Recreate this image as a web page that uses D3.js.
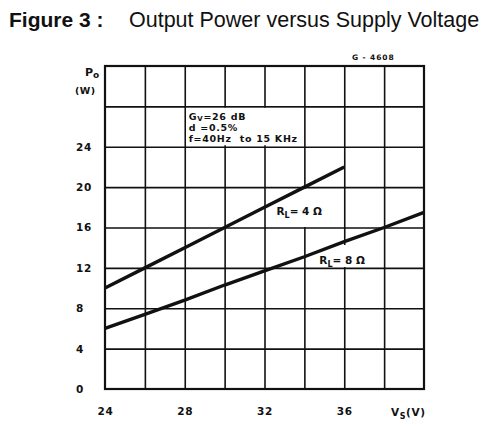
<!DOCTYPE html>
<html>
<head>
	<meta charset="utf-8">
	<script src="https://cdnjs.cloudflare.com/ajax/libs/d3/7.8.5/d3.min.js" charset="utf-8"></script>
	<style>
		body {
		  margin: 0;
		  background: #fff;
		}
		.title {
		  font-family: 'Liberation Sans', Arial, sans-serif;
		  font-size: 21.5px;
		  fill: #111;
		}
		.lbl {
		  font-family: 'DejaVu Sans', sans-serif;
		  font-weight: bold;
		  fill: #111;
		}
		.cond { white-space: pre; }
		.grid line { stroke: #111; stroke-width: 1.6px; }
		.grid path { display: none; }
		.ticks path, .ticks line { display: none; }
	</style>
</head>
<body>
<div id="chart"></div>
<script>

//////////////////// Data ////////////////////

// supply voltage Vs (V), one point per grid column
var voltage = [24, 26, 28, 30, 32, 34, 36, 38, 40];
// output power Po (W) for RL = 4 ohm (curve stops at 36 V)
var power4 = [10, 12, 14, 16, 18, 20, 22];
// output power Po (W) for RL = 8 ohm
var power8 = [6.0, 7.4, 8.8, 10.3, 11.7, 13.1, 14.6, 16.0, 17.5];

var xTickLabels = [24, 28, 32, 36];
var yTickLabels = [0, 4, 8, 12, 16, 20, 24];
var conditions = ["G|V|=26 dB", "d =0.5%", "f=40Hz  to 15 KHz"];

//////////////////// Setup ////////////////////

var margin = {top: 66, right: 76, bottom: 39, left: 105},
    width = 500 - margin.left - margin.right,
    height = 428 - margin.top - margin.bottom;

var svg = d3.select("#chart").append("svg")
    .attr("width", 500)
    .attr("height", 428);

//Title
var title = svg.append("text").attr("class", "title").attr("y", 27);
title.append("tspan").attr("x", 9).style("font-weight", "bold").style("font-size", "21px").text("Figure 3 :");
title.append("tspan").attr("x", 129).text("Output Power versus Supply Voltage");

//Drawing code
svg.append("text").attr("class", "lbl")
    .attr("x", 352).attr("y", 60)
    .style("font-size", "7.5px").style("letter-spacing", "0.9px")
    .text("G - 4608");

var g = svg.append("g")
    .attr("transform", "translate(" + margin.left + "," + margin.top + ")");

var x = d3.scaleLinear().domain([24, 40]).range([0, width]);
var y = d3.scaleLinear().domain([0, 32]).range([height, 0]);

//////////////////// Grid ////////////////////

g.append("g").attr("class", "grid")
    .call(d3.axisBottom(x).tickValues(d3.range(26, 40, 2)).tickSize(height).tickFormat(""));
g.append("g").attr("class", "grid")
    .call(d3.axisLeft(y).tickValues(d3.range(4, 32, 4)).tickSize(-width).tickFormat(""));

g.append("rect")
    .attr("width", width).attr("height", height)
    .style("fill", "none").style("stroke", "#111").style("stroke-width", 2.2);

//Tick labels
g.append("g").attr("class", "ticks lbl")
    .attr("transform", "translate(0," + height + ")")
    .call(d3.axisBottom(x).tickValues(xTickLabels).tickSize(0).tickFormat(d3.format("d")))
    .selectAll("text")
    .attr("y", 19)
    .style("font-family", "DejaVu Sans").style("font-weight", "bold")
    .style("font-size", "10.5px").style("letter-spacing", "0.8px").style("fill", "#111");

g.append("g").attr("class", "ticks lbl")
    .call(d3.axisLeft(y).tickValues(yTickLabels).tickSize(0).tickFormat(d3.format("d")))
    .selectAll("text")
    .attr("x", -29).style("text-anchor", "start")
    .style("font-family", "DejaVu Sans").style("font-weight", "bold")
    .style("font-size", "10.5px").style("letter-spacing", "0.8px").style("fill", "#111");

//Axis names
var yName = svg.append("text").attr("class", "lbl").style("font-size", "11px");
yName.append("tspan").attr("x", 85).attr("y", 76).text("P");
yName.append("tspan").attr("dy", 2).style("font-size", "9px").text("o");
svg.append("text").attr("class", "lbl").style("font-size", "9.5px").style("letter-spacing", "0.5px")
    .attr("x", 75).attr("y", 94).text("(W)");

var xName = svg.append("text").attr("class", "lbl").style("font-size", "10.5px").style("letter-spacing", "0.6px");
xName.append("tspan").attr("x", 391).attr("y", 416).text("V");
xName.append("tspan").attr("dy", 3).style("font-size", "8px").text("S");
xName.append("tspan").attr("dy", -3).text("(V)");

//////////////////// Boxes ////////////////////

//Conditions box hides the grid behind it
g.append("rect")
    .attr("x", x(28) + 1.5).attr("y", y(28) + 1.5)
    .attr("width", x(34) - x(28) - 3).attr("height", y(24) - y(28) - 3)
    .style("fill", "#fff");

g.selectAll(".cond")
    .data(conditions)
   .enter().append("text")
    .attr("class", "cond lbl")
    .attr("x", x(28) + 4)
    .attr("y", function(d, i) { return y(28) + 13.5 + i * 11.3; })
    .style("font-size", "9.5px")
    .style("letter-spacing", "0.7px")
    .each(function(d) {
        var parts = d.split("|");
        var t = d3.select(this);
        t.append("tspan").text(parts[0]);
        if (parts.length > 1) {
            t.append("tspan").attr("dy", 1.5).style("font-size", "7px").text(parts[1]);
            t.append("tspan").attr("dy", -1.5).text(parts[2]);
        }
    });

//Curve labels
var curveLabels = [
    {v: 32.6, p: 17.2, box: [189 - 66, 227 - 66], ohm: "4"},
    {v: 34.75, p: 12.4, box: [245 - 66, 267 - 66], ohm: "8"}
];

g.selectAll(".labelBox")
    .data(curveLabels)
   .enter().append("rect")
    .attr("class", "labelBox")
    .attr("x", function(d) { return x(d.v) - 3; })
    .attr("y", function(d) { return d.box[0]; })
    .attr("width", 49)
    .attr("height", function(d) { return d.box[1] - d.box[0]; })
    .style("fill", "#fff");

//////////////////// Curves ////////////////////

var line = d3.line()
    .x(function(d) { return x(d[0]); })
    .y(function(d) { return y(d[1]); });

var curves = [
    power4.map(function(p, i) { return [voltage[i], p]; }),
    power8.map(function(p, i) { return [voltage[i], p]; })
];

g.selectAll(".curve")
    .data(curves)
   .enter().append("path")
    .attr("class", "curve")
    .attr("d", line)
    .style("fill", "none").style("stroke", "#111").style("stroke-width", 3.4);

var labels = g.selectAll(".curveLabel")
    .data(curveLabels)
   .enter().append("text")
    .attr("class", "curveLabel lbl")
    .attr("x", function(d) { return x(d.v); })
    .attr("y", function(d) { return y(d.p); })
    .style("font-size", "10.5px");
labels.append("tspan").text("R");
labels.append("tspan").attr("dy", 3).style("font-size", "8px").text("L");
labels.append("tspan").attr("dy", -3).text(function(d) { return "= " + d.ohm + " Ω"; });

</script>
</body>
</html>
